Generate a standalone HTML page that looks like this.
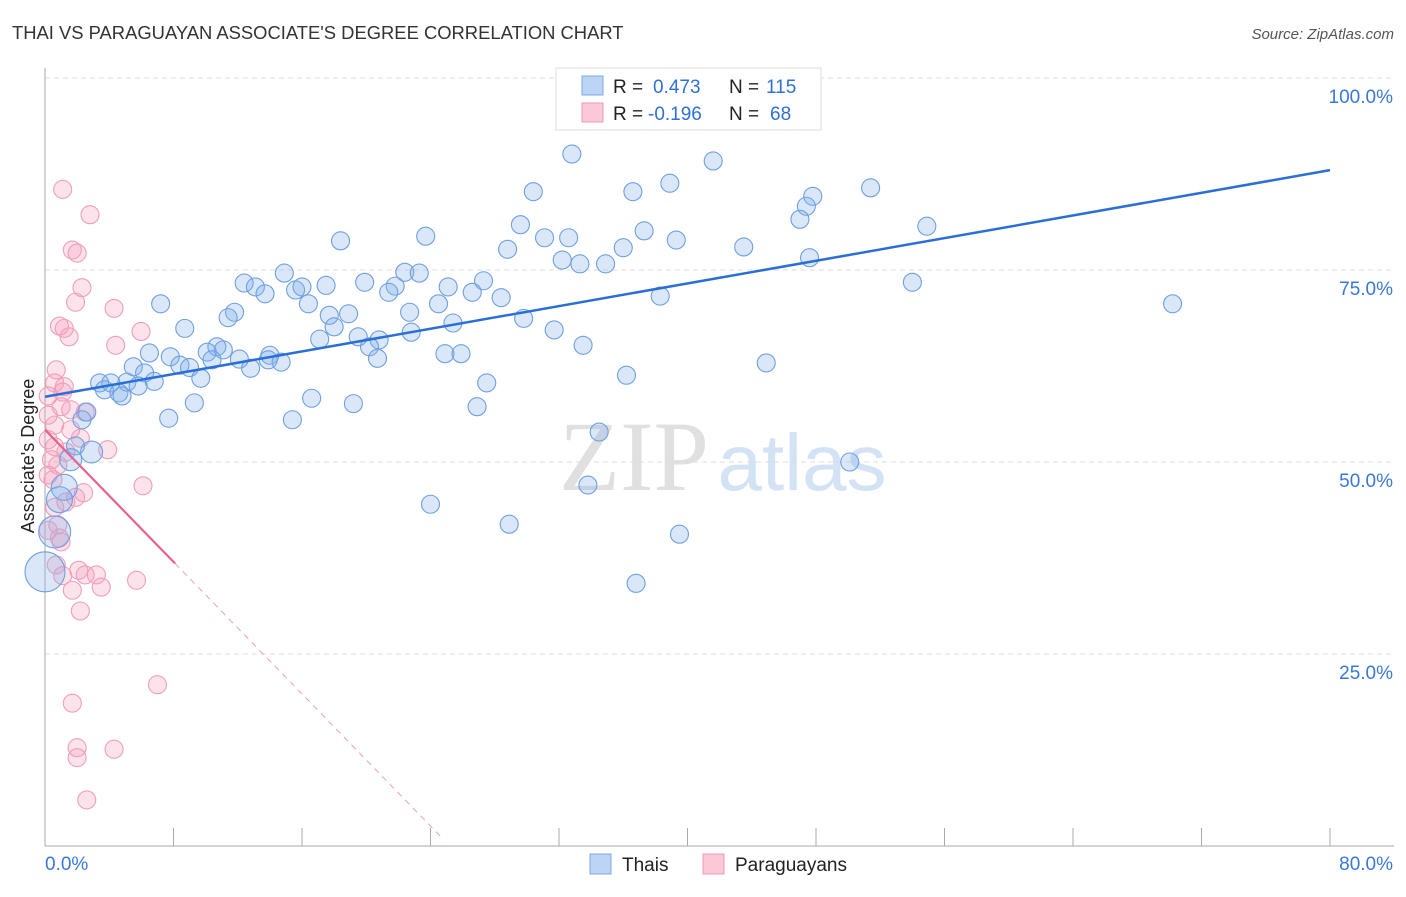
<!DOCTYPE html>
<html><head><meta charset="utf-8"><style>
body{margin:0;background:#fff;font-family:"Liberation Sans",sans-serif;}
svg text{font-family:"Liberation Sans",sans-serif;}
</style></head><body>
<svg id="chart" width="1406" height="892" viewBox="0 0 1406 892">
<text x="12" y="39" font-size="18.4" fill="#333">THAI VS PARAGUAYAN ASSOCIATE'S DEGREE CORRELATION CHART</text>
<text x="1394" y="39" font-size="15" fill="#555" text-anchor="end" font-style="italic">Source: ZipAtlas.com</text>
<g>
<text x="634" y="490" font-size="100" fill="#e0e0e0" text-anchor="middle" style="font-family:'Liberation Serif',serif">ZIP</text>
<text x="802" y="490" font-size="80" fill="#d3e2f5" text-anchor="middle">atlas</text>
</g>
<g id="grid"></g><g id="axes"></g><g id="pts"></g><g id="trend"></g>
<text transform="translate(34,456) rotate(-90)" font-size="18" fill="#222" text-anchor="middle">Associate's Degree</text>
<g>
<rect x="556" y="68" width="265" height="62" fill="#fff" stroke="#ddd"/>
<rect x="582" y="76" width="21" height="19" fill="#bcd4f5" stroke="#7fa8e0"/>
<rect x="582" y="103" width="21" height="19" fill="#fbc8d8" stroke="#ec9ab5"/>
<text x="613" y="93" font-size="19" fill="#222">R = </text><text x="653" y="93" font-size="19" fill="#2f6fd6">0.473</text>
<text x="729" y="93" font-size="19" fill="#222">N = </text><text x="766" y="93" font-size="19" fill="#2f6fd6">115</text>
<text x="613" y="120" font-size="19" fill="#222">R = </text><text x="648" y="120" font-size="19" fill="#2f6fd6">-0.196</text>
<text x="729" y="120" font-size="19" fill="#222">N = </text><text x="770" y="120" font-size="19" fill="#2f6fd6">68</text>
</g>
<g>
<rect x="590" y="854" width="21" height="20" fill="#bcd4f5" stroke="#7fa8e0"/>
<text x="622" y="871" font-size="19" fill="#222">Thais</text>
<rect x="703" y="854" width="21" height="20" fill="#fbc8d8" stroke="#ec9ab5"/>
<text x="735" y="871" font-size="19" fill="#222">Paraguayans</text>
</g>
</svg>
<script>
const blueX=[32.8,41.6,30.4,36.6,38.9,51.4,47.8,47.4,47.0,54.9,29.6,37.3,31.1,32.6,23.7,18.4,28.8,39.3,43.5,36.0,32.2,33.3,34.9,47.6,54.0,70.2,14.9,12.4,13.1,13.7,15.6,16.0,17.5,19.9,22.4,23.3,21.8,21.4,25.1,27.3,26.6,28.4,24.5,16.4,7.2,11.8,11.4,17.7,18.9,22.7,29.8,25.4,18.0,8.7,22.8,31.7,17.1,19.5,20.8,20.2,33.5,38.3,6.5,7.8,10.7,11.1,10.1,10.4,12.1,14.0,13.9,14.7,12.8,8.4,9.0,20.7,24.9,25.9,44.9,5.5,6.2,9.7,5.1,6.8,3.4,4.1,3.7,4.6,4.8,5.8,36.2,27.5,16.6,19.2,9.3,7.7,26.9,15.4,2.6,2.3,34.5,1.9,2.9,1.6,50.1,33.8,1.2,0.9,24.0,28.9,39.5,0.6,36.8,0.0];
const blueY=[90.1,89.2,85.2,85.2,86.3,85.7,84.6,83.3,81.6,80.7,80.9,80.1,79.2,79.2,79.4,78.8,77.7,78.9,78.0,77.9,76.3,75.8,75.8,76.6,73.4,70.6,74.6,73.3,72.8,71.9,72.4,72.8,73.0,73.4,74.7,74.6,72.9,72.1,72.8,73.6,72.1,71.4,70.6,70.6,70.6,69.5,68.8,69.1,69.3,69.5,68.7,68.1,67.6,67.4,66.9,67.2,66.0,66.3,65.9,65.0,65.2,71.6,64.2,63.7,65.0,64.6,64.3,63.3,63.4,63.9,63.3,63.0,62.2,62.6,62.3,63.5,64.1,64.1,62.9,62.4,61.6,60.9,60.4,60.5,60.3,60.3,59.4,59.0,58.6,59.9,61.3,60.3,58.3,57.6,57.7,55.7,57.2,55.5,56.5,55.5,53.9,52.1,51.3,50.3,50.0,47.0,46.7,45.1,44.5,41.9,40.6,40.9,34.2,35.7];
const blueR=[9,9,9,9,9,9,9,9,9,9,9,9,9,9,9,9,9,9,9,9,9,9,9,9,9,9,9,9,9,9,9,9,9,9,9,9,9,9,9,9,9,9,9,9,9,9,9,9,9,9,9,9,9,9,9,9,9,9,9,9,9,9,9,9,9,9,9,9,9,9,9,9,9,9,9,9,9,9,9,9,9,9,9,9,9,9,9,9,9,9,9,9,9,9,9,9,9,9,9,9,9,9,11,11,9,9,13,13,9,9,9,16,9,20];
const pinkX=[1.1,2.8,1.7,2.0,2.3,1.9,4.3,0.9,1.2,1.5,5.98,4.4,0.7,0.6,1.2,1.1,0.2,1.0,0.2,1.6,2.5,0.6,1.6,2.2,0.2,0.6,1.3,3.9,0.4,0.8,0.2,0.5,6.1,2.4,1.9,1.3,0.6,0.8,0.9,1.0,0.7,2.1,1.1,2.5,3.2,5.7,3.5,1.7,2.2,7.0,1.7,2.0,2.0,4.3,2.6,0.2];
const pinkY=[85.5,82.2,77.6,77.2,72.7,70.8,70.0,67.7,67.4,66.3,67.0,65.2,62.0,60.3,59.8,59.1,58.6,57.2,56.1,56.8,56.5,54.8,54.2,53.1,52.9,52.0,51.3,51.6,50.3,49.6,48.3,47.7,46.9,46.0,45.4,44.8,44.1,41.8,40.1,39.6,36.6,35.9,35.2,35.3,35.3,34.6,33.7,33.3,30.6,21.0,18.6,12.8,11.5,12.6,6.0,41.1];
const blueTrend=[0,58.5,80,88.0];
const pinkTrend=[0,54.2,8.1,24.6];
const yTicks=[25,50,75,100];
const xTickCount=10;
const X0=45,X1=1330,Y0=846,Y100=78;
const sx=v=>X0+(v/80)*(X1-X0);
const sy=v=>Y0-(v/100)*(Y0-Y100);
const NS='http://www.w3.org/2000/svg';
function mk(tag,at,parent){const e=document.createElementNS(NS,tag);for(const k in at)e.setAttribute(k,at[k]);document.getElementById(parent).appendChild(e);return e;}
yTicks.forEach(t=>{
 const l=mk('line',{x1:X0,x2:1394,y1:sy(t),y2:sy(t),stroke:'#ddd','stroke-dasharray':'5,4'},'grid');
 
 
 const tx=mk('text',{x:1393,y:sy(t)+25,'font-size':19,fill:'#3a78d8','text-anchor':'end'},'grid');
 tx.textContent=t.toFixed(1)+'%';
 
 
});
const ax=mk('line',{x1:X0,x2:X0,y1:68,y2:Y0,stroke:'#aaa'},'axes');


const bx=mk('line',{x1:X0,x2:1394,y1:Y0,y2:Y0,stroke:'#aaa'},'axes');


for(let i=0;i<=xTickCount;i++){const v=i*80/xTickCount;const t=mk('line',{x1:sx(v),x2:sx(v),y1:Y0,y2:Y0-18,stroke:'#aaa'},'axes');
 
 }
[[0,'0.0%','start',X0],[80,'80.0%','end',1393]].forEach(a=>{const t=mk('text',{x:a[3],y:870,'font-size':19,fill:'#3a78d8','text-anchor':a[2]},'axes');t.textContent=a[1];
 
 });
pinkX.forEach((x,i)=>{const c=mk('circle',{cx:sx(x),cy:sy(pinkY[i]),r:9,fill:'rgba(244,160,190,0.3)',stroke:'#ef9fba','stroke-width':1.1},'pts');
 
 });
blueX.forEach((x,i)=>{const c=mk('circle',{cx:sx(x),cy:sy(blueY[i]),r:blueR[i],fill:'rgba(130,175,235,0.3)',stroke:'#6fa0e0','stroke-width':1.1},'pts');
 
 });
const bl=mk('line',{x1:sx(blueTrend[0]),y1:sy(blueTrend[1]),x2:sx(blueTrend[2]),y2:sy(blueTrend[3]),stroke:'#2a6fd6','stroke-width':2.5},'trend');


const slope=-2.15;
const pf=x=>pinkTrend[1]+slope*x;
const pl=mk('line',{x1:sx(pinkTrend[0]),y1:sy(pf(pinkTrend[0])),x2:sx(pinkTrend[2]),y2:sy(pf(pinkTrend[2])),stroke:'#e4638d','stroke-width':2.2},'trend');


const pd=mk('line',{x1:sx(pinkTrend[2]),y1:sy(pf(pinkTrend[2])),x2:sx(pinkTrend[3]),y2:sy(pf(pinkTrend[3])),stroke:'#eaa0b8','stroke-width':1,'stroke-dasharray':'6,5'},'trend');


</script>
</body></html>
